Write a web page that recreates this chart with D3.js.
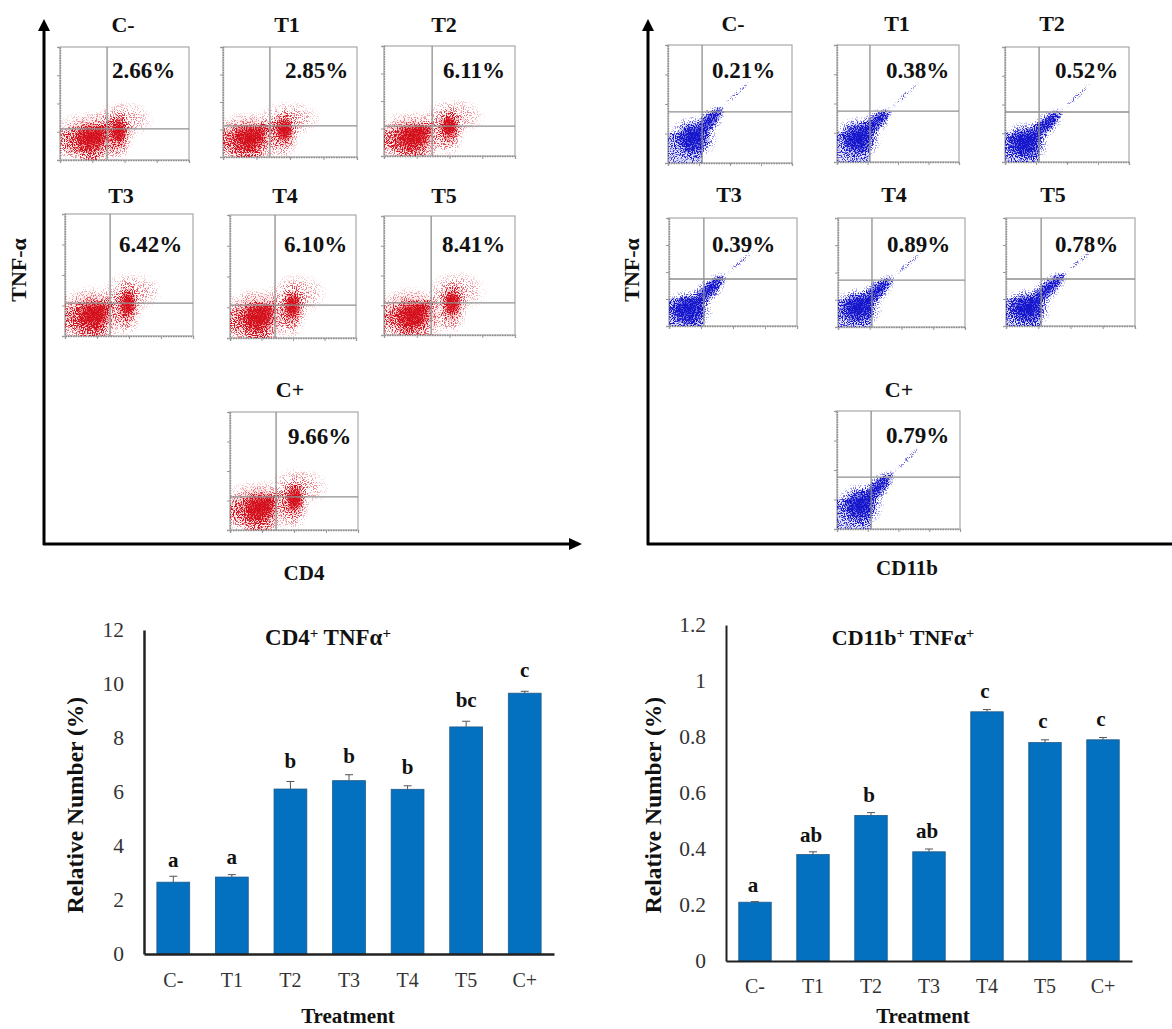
<!DOCTYPE html>
<html>
<head>
<meta charset="utf-8">
<title>TNF-alpha flow cytometry</title>
<script src="https://cdn.jsdelivr.net/npm/d3@7"></script>
<style>
	body { margin: 0; background: #fff; }
	text { font-family: "Liberation Serif", serif; fill: #111; }
	.bold { font-weight: bold; }
</style>
</head>
<body>
<div id="chart"></div>
<script>
'use strict';

// ---- data ----
var treatments = ['C-', 'T1', 'T2', 'T3', 'T4', 'T5', 'C+'];
var flowOrder  = ['C-', 'T1', 'T2', 'T3', 'T4', 'T5', 'C+'];

var cd4Pct      = [2.66, 2.85, 6.11, 6.42, 6.10, 8.41, 9.66];
var cd4Err      = [0.22, 0.09, 0.28, 0.22, 0.13, 0.21, 0.07];
var cd4Letters  = ['a', 'a', 'b', 'b', 'b', 'bc', 'c'];
var cd4Ticks    = [0, 2, 4, 6, 8, 10, 12];

var cd11bPct     = [0.21, 0.38, 0.52, 0.39, 0.89, 0.78, 0.79];
var cd11bErr     = [0.002, 0.01, 0.01, 0.01, 0.008, 0.01, 0.008];
var cd11bLetters = ['a', 'ab', 'b', 'ab', 'c', 'c', 'c'];
var cd11bTicks   = [0, 0.2, 0.4, 0.6, 0.8, 1, 1.2];

// flow gates, in log decades (0-4 on both axes)
var cd4GateX   = [1.46, 1.40, 1.47, 1.41, 1.43, 1.44, 1.44];
var cd4GateY   = [1.10, 1.13, 1.09, 1.08, 1.07, 1.08, 1.12];
var cd11bGateX = [1.10, 1.08, 1.10, 1.09, 1.07, 1.09, 1.11];
var cd11bGateY = [1.73, 1.74, 1.74, 1.74, 1.72, 1.74, 1.76];

// population centres, in log decades
var cd4Negative = [[0.93, 0.78], [0.75, 0.69], [0.85, 0.69], [0.84, 0.69], [0.86, 0.68], [0.85, 0.67], [0.88, 0.75]];
var cd4Positive = [[1.80, 0.99], [1.82, 0.95], [1.98, 1.02], [1.94, 1.02], [1.97, 1.00], [2.07, 1.04], [2.00, 1.02]];
var cd11bCore   = [[0.81, 0.85], [0.69, 0.82], [0.65, 0.66], [0.60, 0.60], [0.63, 0.70], [0.65, 0.66], [0.75, 0.81]];
var cd11bTip    = [[1.77, 1.90], [1.75, 1.80], [1.84, 1.80], [1.75, 1.89], [1.73, 1.84], [1.83, 1.96], [1.82, 1.90]];

// ---- layout ----
var width = 1172, height = 1029;

// x0, x1, y0 (top), y1 (bottom)
var cd4Boxes = [[60, 189, 47, 160], [223, 357, 47, 157], [384, 515, 46, 156], [65, 193, 214, 336],
	[230, 356, 215, 338], [384, 515, 216, 335], [230, 358, 412, 530]];
var cd11bBoxes = [[668, 792, 45, 163], [837, 959, 45, 162], [1005, 1129, 47, 162], [669, 797, 218, 326],
	[838, 965, 218, 327], [1006, 1135, 218, 326], [837, 960, 411, 529]];

// title centre x, title baseline, percent left x, percent baseline
var cd4Labels = [[123, 32, 112, 78], [287, 32, 285, 78], [444, 32, 443, 78], [121, 203, 119, 252],
	[285, 203, 284, 252], [444, 203, 442, 252], [290, 397, 288, 444]];
var cd11bLabels = [[733, 31, 712, 78], [897, 31, 886, 78], [1052, 31, 1055, 78], [729, 202, 712, 252],
	[894, 202, 887, 252], [1053, 202, 1055, 252], [899, 397, 886, 443]];

var svg = d3.select('#chart').append('svg')
	.attr('width', width)
	.attr('height', height)
	.style('display', 'block');

var defs = svg.append('defs');

var softFade = defs.append('radialGradient').attr('id', 'fade');
softFade.append('stop').attr('offset', '0%').attr('stop-color', '#000').attr('stop-opacity', 1);
softFade.append('stop').attr('offset', '50%').attr('stop-color', '#000').attr('stop-opacity', 0.62);
softFade.append('stop').attr('offset', '78%').attr('stop-color', '#000').attr('stop-opacity', 0.25);
softFade.append('stop').attr('offset', '100%').attr('stop-color', '#000').attr('stop-opacity', 0);

// turns a smooth alpha map into dots: the more alpha, the more events come through
function dotFilter(id, color, seed) {
	var f = defs.append('filter').attr('id', id)
		.attr('x', '-10%').attr('y', '-10%').attr('width', '120%').attr('height', '120%')
		.attr('color-interpolation-filters', 'sRGB');
	f.append('feTurbulence')
		.attr('type', 'fractalNoise').attr('baseFrequency', 0.9).attr('numOctaves', 2).attr('seed', seed)
		.attr('result', 'noise');
	f.append('feColorMatrix').attr('in', 'noise').attr('type', 'matrix')
		.attr('values', '0 0 0 0 0  0 0 0 0 0  0 0 0 0 0  0 0 0 2.8 -0.72')
		.attr('result', 'noiseAlpha');
	f.append('feComposite').attr('in', 'SourceAlpha').attr('in2', 'noiseAlpha')
		.attr('operator', 'arithmetic')
		.attr('k1', 0).attr('k2', 1).attr('k3', 1).attr('k4', -1)
		.attr('result', 'sum');
	var transfer = f.append('feComponentTransfer').attr('in', 'sum').attr('result', 'dots');
	transfer.append('feFuncA').attr('type', 'linear').attr('slope', 2.4).attr('intercept', 0);
	f.append('feFlood').attr('flood-color', color).attr('result', 'ink');
	f.append('feComposite').attr('in', 'ink').attr('in2', 'dots').attr('operator', 'in').attr('result', 'inked');
	f.append('feGaussianBlur').attr('in', 'inked').attr('stdDeviation', 0.45);
}
dotFilter('dotsRed', '#d3101c', 4);
dotFilter('dotsBlue', '#1616cc', 9);

// same colours without the speckle, for the densest part of each cloud
function inkFilter(id, color) {
	var f = defs.append('filter').attr('id', id)
		.attr('x', '-10%').attr('y', '-10%').attr('width', '120%').attr('height', '120%')
		.attr('color-interpolation-filters', 'sRGB');
	f.append('feFlood').attr('flood-color', color).attr('result', 'ink');
	f.append('feComposite').attr('in', 'ink').attr('in2', 'SourceAlpha').attr('operator', 'in');
}
inkFilter('inkRed', '#d3101c');
inkFilter('inkBlue', '#1616cc');

// shapes of the clouds around their centres: anchor, dx, dy, rx, ry, opacity
var redShapes = [
	['neg', 0.00, 0.00, 1.30, 1.00, 0.50],
	['neg', 0.02, -0.45, 0.55, 0.70, 0.45],
	['neg', -0.55, -0.15, 0.75, 0.60, 0.38],
	['neg', 0.00, 0.00, 0.60, 0.55, 0.75],
	['pos', 0.00, -0.12, 0.50, 0.95, 0.50],
	['pos', 0.02, 0.05, 0.28, 0.45, 0.85],
	['pos', 0.15, 0.42, 1.00, 0.72, 0.33]
];
var redDense = [
	['neg', 0.00, 0.00, 1.00, 0.85, 0.26],
	['neg', 0.05, 0.02, 0.55, 0.50, 0.85],
	['pos', 0.00, -0.05, 0.38, 0.70, 0.3],
	['pos', 0.02, 0.03, 0.27, 0.42, 0.9]
];

function drawFlowFrame(g, box, gx, gy) {
	var x = d3.scaleLinear().domain([0, 4]).range([box[0], box[1]]);
	var y = d3.scaleLinear().domain([0, 4]).range([box[3], box[2]]);

	g.append('rect')
		.attr('x', box[0]).attr('y', box[2])
		.attr('width', box[1] - box[0]).attr('height', box[3] - box[2])
		.attr('fill', 'none').attr('stroke', '#a8a8a8').attr('stroke-width', 1.2);

	g.append('g').attr('transform', 'translate(' + box[0] + ',0)')
		.call(d3.axisLeft(y).tickValues([0, 1, 2, 3, 4]).tickSize(3).tickFormat(''))
		.call(styleFlowAxis);
	g.append('g').attr('transform', 'translate(0,' + box[3] + ')')
		.call(d3.axisBottom(x).tickValues([0, 1, 2, 3, 4]).tickSize(3).tickFormat(''))
		.call(styleFlowAxis);
	return {x: x, y: y, gx: gx, gy: gy};
}

function styleFlowAxis(sel) {
	sel.select('.domain').attr('stroke', '#8c8c8c').attr('stroke-width', 1.4).attr('stroke-dasharray', '1.5 1');
	sel.selectAll('.tick line').attr('stroke', '#999');
}

function drawGates(g, s, box) {
	g.append('line').attr('x1', s.x(s.gx)).attr('x2', s.x(s.gx)).attr('y1', box[2]).attr('y2', box[3])
		.attr('stroke', '#8f8f8f').attr('stroke-width', 1.3);
	g.append('line').attr('x1', box[0]).attr('x2', box[1]).attr('y1', s.y(s.gy)).attr('y2', s.y(s.gy))
		.attr('stroke', '#8f8f8f').attr('stroke-width', 1.3);
}

function clipFor(id, box) {
	defs.append('clipPath').attr('id', id).append('rect')
		.attr('x', box[0]).attr('y', box[2])
		.attr('width', box[1] - box[0]).attr('height', box[3] - box[2]);
}

function addShapes(layer, s, shapes, neg, pos) {
	shapes.forEach(function(d) {
		var c = d[0] === 'neg' ? neg : pos;
		layer.append('ellipse')
			.attr('cx', s.x(c[0] + d[1]))
			.attr('cy', s.y(c[1] + d[2]))
			.attr('rx', s.x(d[3]) - s.x(0))
			.attr('ry', s.y(0) - s.y(d[4]))
			.attr('fill', 'url(#fade)')
			.attr('opacity', d[5]);
	});
}

function drawRedCloud(g, s, neg, pos) {
	var dots = g.append('g').attr('filter', 'url(#dotsRed)');
	var dense = g.append('g').attr('filter', 'url(#inkRed)');
	addShapes(dots, s, redShapes, neg, pos);
	addShapes(dense, s, redDense, neg, pos);
	// bridge of events from the negative population to the gate crossing
	streak(dots, s, neg, [s.gx + 0.08, s.gy + 0.05], 9, 0.65, 1.15);
	streak(dense, s, neg, [s.gx, s.gy], 6, 0.35, 1.05);
}

// ellipse stretched between two points given in decades
function streak(g, s, from, to, halfWidth, opacity, stretch) {
	var x1 = s.x(from[0]), y1 = s.y(from[1]), x2 = s.x(to[0]), y2 = s.y(to[1]);
	var len = Math.sqrt((x2 - x1) * (x2 - x1) + (y2 - y1) * (y2 - y1));
	var angle = Math.atan2(y2 - y1, x2 - x1) * 180 / Math.PI;
	g.append('ellipse')
		.attr('transform', 'translate(' + [(x1 + x2) / 2, (y1 + y2) / 2] + ') rotate(' + angle + ')')
		.attr('rx', len / 2 * stretch)
		.attr('ry', halfWidth)
		.attr('fill', 'url(#fade)')
		.attr('opacity', opacity);
}

function drawBlueCloud(g, s, core, tip) {
	var dots = g.append('g').attr('filter', 'url(#dotsBlue)');
	var dense = g.append('g').attr('filter', 'url(#inkBlue)');
	dots.append('rect')
		.attr('x', s.x(0)).attr('y', s.y(1.02))
		.attr('width', s.x(s.gx) - s.x(0)).attr('height', s.y(0) - s.y(1.02))
		.attr('fill', '#000').attr('opacity', 0.34);
	dots.append('ellipse')
		.attr('cx', s.x(core[0])).attr('cy', s.y(core[1]))
		.attr('rx', s.x(0.8) - s.x(0)).attr('ry', s.y(0) - s.y(0.78))
		.attr('fill', 'url(#fade)').attr('opacity', 0.9);
	streak(dots, s, core, tip, 12, 0.75, 1.08);
	streak(dots, s, [(core[0] + tip[0]) / 2, (core[1] + tip[1]) / 2], tip, 6, 0.6, 1.15);
	streak(dots, s, tip, [tip[0] + 0.95, tip[1] + 0.95], 3, 0.36, 1);

	dense.append('rect')
		.attr('x', s.x(0)).attr('y', s.y(1.02))
		.attr('width', s.x(s.gx) - s.x(0)).attr('height', s.y(0) - s.y(1.02))
		.attr('fill', '#000').attr('opacity', 0.12);
	dense.append('ellipse')
		.attr('cx', s.x(core[0])).attr('cy', s.y(core[1]))
		.attr('rx', s.x(0.58) - s.x(0)).attr('ry', s.y(0) - s.y(0.58))
		.attr('fill', 'url(#fade)').attr('opacity', 0.85);
	streak(dense, s, core, tip, 8, 0.7, 1.02);
}

function drawFlowSet(prefix, boxes, labels, gateX, gateY, pct, drawCloud, first, second) {
	flowOrder.forEach(function(name, i) {
		var box = boxes[i];
		var g = svg.append('g').attr('class', 'flow ' + prefix);
		var id = prefix + 'Clip' + i;
		clipFor(id, box);
		var s = drawFlowFrame(g, box, gateX[i], gateY[i]);
		var cloud = g.append('g').attr('clip-path', 'url(#' + id + ')');
		drawCloud(cloud, s, first[i], second[i]);
		drawGates(g, s, box);
		g.append('text').attr('class', 'bold')
			.attr('x', labels[i][0]).attr('y', labels[i][1])
			.attr('text-anchor', 'middle').attr('font-size', 22)
			.text(name);
		g.append('text').attr('class', 'bold')
			.attr('x', labels[i][2]).attr('y', labels[i][3])
			.attr('font-size', 23)
			.text(pct[i].toFixed(2) + '%');
	});
}

drawFlowSet('cd4', cd4Boxes, cd4Labels, cd4GateX, cd4GateY, cd4Pct, drawRedCloud, cd4Negative, cd4Positive);
drawFlowSet('cd11b', cd11bBoxes, cd11bLabels, cd11bGateX, cd11bGateY, cd11bPct, drawBlueCloud, cd11bCore, cd11bTip);

// big arrows around the dot plots
function bigAxes(x0, yBottom, xEnd, arrowRight) {
	var g = svg.append('g');
	g.append('line').attr('x1', x0).attr('x2', x0).attr('y1', yBottom + 1).attr('y2', 28)
		.attr('stroke', '#000').attr('stroke-width', 3);
	g.append('path')
		.attr('d', 'M' + (x0 - 6) + ',31L' + x0 + ',19L' + (x0 + 6) + ',31Z');
	g.append('line').attr('x1', x0 - 1).attr('x2', xEnd).attr('y1', yBottom).attr('y2', yBottom)
		.attr('stroke', '#000').attr('stroke-width', 3);
	if (arrowRight) {
		g.append('path')
			.attr('d', 'M' + (xEnd - 2) + ',' + (yBottom - 6) + 'L' + (xEnd + 11) + ',' + yBottom + 'L' + (xEnd - 2) + ',' + (yBottom + 6) + 'Z');
	}
}
bigAxes(44, 544, 571, true);
bigAxes(648, 544, 1172, false);

function rotatedLabel(x, y, txt, size) {
	svg.append('text').attr('class', 'bold')
		.attr('transform', 'translate(' + x + ',' + y + ') rotate(-90)')
		.attr('text-anchor', 'middle').attr('font-size', size)
		.text(txt);
}
rotatedLabel(26, 270, 'TNF-α', 22);
rotatedLabel(639, 270, 'TNF-α', 22);

svg.append('text').attr('class', 'bold').attr('x', 304).attr('y', 580)
	.attr('text-anchor', 'middle').attr('font-size', 21).text('CD4');
svg.append('text').attr('class', 'bold').attr('x', 907).attr('y', 575)
	.attr('text-anchor', 'middle').attr('font-size', 21).text('CD11b');

// ---- bar charts ----
function PlotBars(config, values, errors, letters) {
	var x = d3.scaleBand().domain(treatments)
		.range(config.xRange).paddingInner(0.44).paddingOuter(0.22);
	var y = d3.scaleLinear().domain(config.domain).range(config.yRange);
	var g = svg.append('g');

	g.selectAll('.bar').data(values).enter().append('rect')
		.attr('class', 'bar')
		.attr('x', function(d, i) { return x(treatments[i]); })
		.attr('y', function(d) { return y(d); })
		.attr('width', x.bandwidth())
		.attr('height', function(d) { return y(0) - y(d); })
		.attr('fill', '#0470c0')
		.attr('stroke', '#1d5a8a')
		.attr('stroke-width', 0.8);

	var cap = 4;
	g.selectAll('.err').data(values).enter().append('path')
		.attr('class', 'err')
		.attr('d', function(d, i) {
			var cx = x(treatments[i]) + x.bandwidth() / 2;
			var top = y(d + errors[i]);
			return 'M' + cx + ',' + y(d) + 'V' + top + 'M' + (cx - cap) + ',' + top + 'H' + (cx + cap);
		})
		.attr('fill', 'none')
		.attr('stroke', '#555')
		.attr('stroke-width', 1);

	g.selectAll('.letter').data(letters).enter().append('text')
		.attr('class', 'letter bold')
		.attr('x', function(d, i) { return x(treatments[i]) + x.bandwidth() / 2 + config.letterDx; })
		.attr('y', function(d, i) { return y(values[i] + errors[i]) - config.letterGap[i]; })
		.attr('text-anchor', 'middle')
		.attr('font-size', 21)
		.text(function(d) { return d; });

	var yAxis = g.append('g').attr('transform', 'translate(' + config.xRange[0] + ',0)')
		.call(d3.axisLeft(y).tickValues(config.ticks).tickSize(0).tickPadding(20).tickFormat(function(d) { return String(d); }));
	yAxis.selectAll('text').attr('font-size', 21.5).style('font-family', '"Liberation Serif", serif').style('fill', '#333');
	yAxis.select('.domain').attr('stroke', '#222').attr('stroke-width', config.axisWidth);

	var xAxis = g.append('g').attr('transform', 'translate(0,' + y(0) + ')')
		.call(d3.axisBottom(x).tickSize(0).tickPadding(config.xPad));
	xAxis.selectAll('text').attr('font-size', 20).style('font-family', '"Liberation Serif", serif').style('fill', '#333');
	xAxis.select('.domain').attr('stroke', '#222').attr('stroke-width', config.axisWidth);

	g.append('text').attr('class', 'bold')
		.attr('transform', 'translate(' + config.yTitleX + ',805) rotate(-90)')
		.attr('text-anchor', 'middle').attr('font-size', 23.5)
		.text('Relative Number (%)');

	g.append('text').attr('class', 'bold')
		.attr('x', config.treatmentX).attr('y', 1023)
		.attr('text-anchor', 'middle').attr('font-size', 21)
		.text('Treatment');

	var title = g.append('text').attr('class', 'bold')
		.attr('x', config.titleX).attr('y', 645)
		.attr('text-anchor', 'middle').attr('font-size', config.titleSize);
	config.title.forEach(function(part) {
		title.append('tspan').text(part[0]);
		title.append('tspan').attr('dy', -7).attr('font-size', config.titleSize * 0.65).text('+');
		title.append('tspan').attr('dy', 7).text(part[1]);
	});
}

PlotBars({
	xRange: [144, 554], yRange: [954, 630], domain: [0, 12], ticks: cd4Ticks,
	letterGap: [9, 11, 13, 12, 12, 14, 14], letterDx: 0, xPad: 19, yTitleX: 83, treatmentX: 348, titleX: 328,
	axisWidth: 2.5, titleSize: 23,
	title: [['CD4', ' '], ['TNFα', '']]
}, cd4Pct, cd4Err, cd4Letters);

PlotBars({
	xRange: [726, 1132], yRange: [961, 625], domain: [0, 1.2], ticks: cd11bTicks,
	letterGap: [10, 10, 11, 11, 12, 12, 12], letterDx: -2, xPad: 18, yTitleX: 661, treatmentX: 923, titleX: 903,
	axisWidth: 2, titleSize: 22,
	title: [['CD11b', ' '], ['TNFα', '']]
}, cd11bPct, cd11bErr, cd11bLetters);
</script>
</body>
</html>
